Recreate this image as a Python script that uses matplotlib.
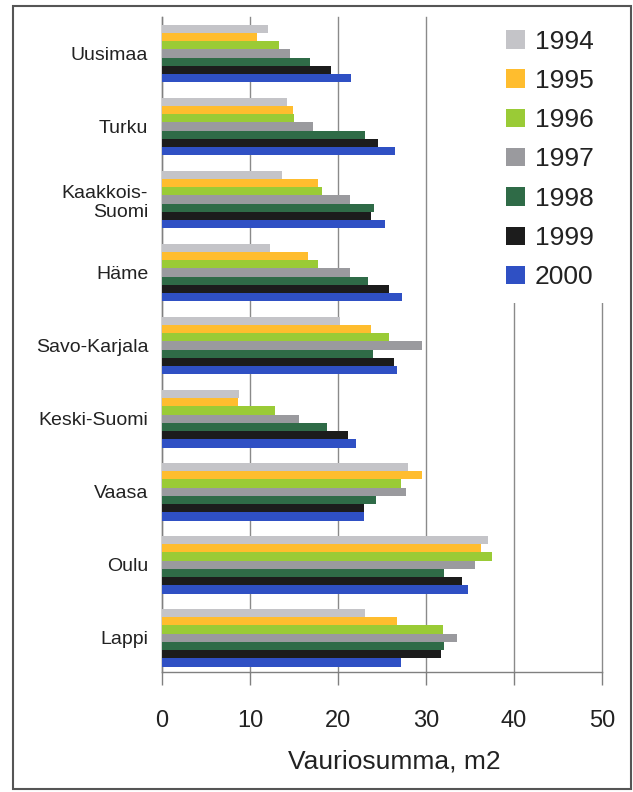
import numpy as np
import matplotlib.pyplot as plt
from matplotlib.patches import Rectangle

plt.rcParams['font.family'] = ['Liberation Sans', 'DejaVu Sans']

regions = ["Uusimaa", "Turku", "Kaakkois-\nSuomi", "Häme", "Savo-Karjala",
           "Keski-Suomi", "Vaasa", "Oulu", "Lappi"]
years = ["1994", "1995", "1996", "1997", "1998", "1999", "2000"]

# damage sum per region, one list per year (m2)
v1994 = [12.0, 14.2, 13.6, 12.3, 20.2, 8.7, 28.0, 37.0, 23.1]
v1995 = [10.8, 14.9, 17.7, 16.6, 23.7, 8.6, 29.6, 36.2, 26.7]
v1996 = [13.3, 15.0, 18.2, 17.7, 25.8, 12.8, 27.2, 37.5, 31.9]
v1997 = [14.5, 17.2, 21.4, 21.4, 29.6, 15.6, 27.7, 35.6, 33.5]
v1998 = [16.8, 23.1, 24.1, 23.4, 24.0, 18.8, 24.3, 32.1, 32.1]
v1999 = [19.2, 24.6, 23.7, 25.8, 26.4, 21.1, 22.9, 34.1, 31.7]
v2000 = [21.5, 26.5, 25.3, 27.3, 26.7, 22.1, 22.9, 34.8, 27.2]

series = [v1994, v1995, v1996, v1997, v1998, v1999, v2000]
colors = ["#c4c4c8", "#ffbd2e", "#9acb36", "#9a9a9e", "#2f6b47", "#1c1c1c", "#2f50c4"]

fig = plt.figure(figsize=(6.33, 7.92), dpi=100)
ax = fig.add_axes([0.256, 0.1515, 0.695, 0.827])

n = len(series)
bar_h = 0.113
y = np.arange(len(regions))
for k, (vals, col, yr) in enumerate(zip(series, colors, years)):
    offs = -n * bar_h / 2 + (k + 0.5) * bar_h
    ax.barh(y + offs, vals, height=bar_h, color=col, label=yr, zorder=3)

ax.set_xlim(0, 50)
ax.set_ylim(8.47, -0.5)
ax.set_xticks(range(0, 51, 10))
ax.set_yticks(y)
ax.set_yticklabels(regions, fontsize=14, color="#222222")
ax.tick_params(axis='y', length=0, pad=10)
ax.tick_params(axis='x', length=9, width=1, color="#808080", direction='out',
               labelsize=17, pad=18, labelcolor="#222222")
ax.grid(axis='x', color="#8a8a8a", linewidth=1, zorder=0)
# keep the line at 50 from being half clipped at the axes edge
for gl in ax.get_xgridlines():
    gl.set_clip_on(False)

for s in ['top', 'right']:
    ax.spines[s].set_visible(False)
for s in ['left', 'bottom']:
    ax.spines[s].set_color("#808080")
    ax.spines[s].set_linewidth(1)

ax.set_xlabel("Vauriosumma, m2", fontsize=19, color="#222222")
ax.xaxis.set_label_coords(0.527, -0.118)

leg = ax.legend(loc='upper right', bbox_to_anchor=(0.98, 0.996),
                bbox_transform=fig.transFigure, fontsize=19, frameon=True,
                facecolor='white', edgecolor='none', framealpha=1,
                handlelength=0.7, handleheight=0.7, handletextpad=0.4,
                labelspacing=0.58, borderpad=0.5, fancybox=False)
leg.set_zorder(5)
for t in leg.get_texts():
    t.set_color("#222222")

# outer frame round the chart
fig.patches.append(Rectangle((13 / 633, 3 / 792), 618 / 633, 783 / 792,
                             transform=fig.transFigure, fill=False,
                             edgecolor="#555555", linewidth=1.5))

fig.savefig("out.png", dpi=100)
